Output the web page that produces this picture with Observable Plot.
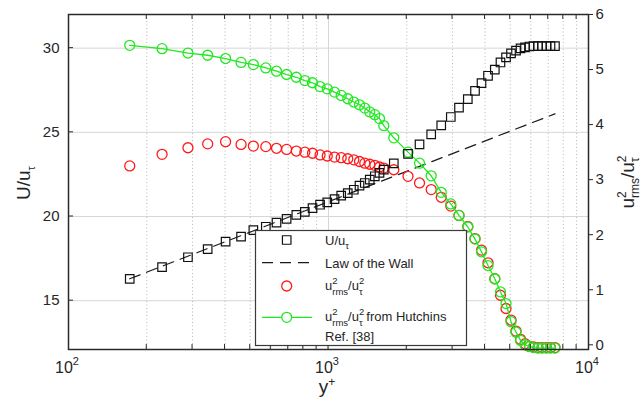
<!DOCTYPE html>
<html><head><meta charset="utf-8">
<script src="https://cdn.jsdelivr.net/npm/d3@7"></script>
<script src="https://cdn.jsdelivr.net/npm/@observablehq/plot@0.6"></script>
<style>
html,body{margin:0;padding:0;background:#fff;}
#chart{width:644px;height:405px;}
</style></head><body><div id="chart"></div>
<script>
// ---- data ----
const yPlus = [172, 229, 288, 343, 402, 461, 514, 574, 631, 690, 752, 811, 868, 928, 989, 1055, 1119, 1186, 1251, 1316, 1379, 1441, 1507, 1571, 1632,
  1783, 2022, 2239, 2483, 2714, 2954, 3176, 3434, 3660, 3877, 4107, 4362, 4586, 4817, 5035, 5263, 5477, 5700, 5931, 6144, 6394, 6624, 6895, 7143, 7431];
const uPlus = [16.30, 16.99, 17.58, 18.06, 18.51, 18.81, 19.19, 19.39, 19.64, 19.86, 20.10, 20.28, 20.50, 20.70, 20.84, 21.03, 21.24, 21.39, 21.59, 21.83, 21.99, 22.19, 22.39, 22.59, 22.79,
  23.16, 23.72, 24.28, 24.88, 25.41, 25.91, 26.47, 26.97, 27.46, 27.92, 28.36, 28.72, 29.15, 29.45, 29.69, 29.85, 29.99, 30.05, 30.10, 30.12, 30.12, 30.12, 30.12, 30.12, 30.12];
const urmsExp = [3.25, 3.46, 3.58, 3.65, 3.69, 3.64, 3.61, 3.60, 3.57, 3.55, 3.52, 3.50, 3.48, 3.45, 3.43, 3.41, 3.40, 3.38, 3.36, 3.33, 3.30, 3.28, 3.26, 3.23, 3.21,
  3.18, 3.06, 2.94, 2.82, 2.68, 2.52, 2.35, 2.15, 1.93, 1.72, 1.49, 1.20, 0.90, 0.66, 0.45, 0.25, 0.10, 0.02, -0.03, -0.04, -0.05, -0.05, -0.05, -0.05, -0.05];
const urmsHutchins = [5.44, 5.38, 5.30, 5.26, 5.20, 5.13, 5.09, 5.03, 4.97, 4.91, 4.86, 4.80, 4.76, 4.69, 4.65, 4.59, 4.53, 4.47, 4.41, 4.36, 4.30, 4.23, 4.18, 4.11, 3.98,
  3.76, 3.50, 3.30, 3.07, 2.77, 2.56, 2.35, 2.14, 1.92, 1.69, 1.44, 1.20, 0.96, 0.75, 0.42, 0.23, 0.08, 0.00, -0.03, -0.05, -0.06, -0.06, -0.06, -0.06, -0.06];
const wallYPlus = [172, 7431];
const wallU = [16.3, 26.1];
const leftTicks = [15, 20, 25, 30];
const rightTicks = [0, 1, 2, 3, 4, 5, 6];
const xMajor = [100, 1000, 10000];
const xMajorExp = ["2", "3", "4"];
const xMinor = [200, 300, 400, 500, 600, 700, 800, 900, 2000, 3000, 4000, 5000, 6000, 7000, 8000, 9000];

(function () {
const L0 = 12.1, L1 = 32, R0 = -0.085, R1 = 6;
const toLeft = v => L0 + (v - R0) * (L1 - L0) / (R1 - R0);
const fromLeft = u => R0 + (u - L0) * (R1 - R0) / (L1 - L0);

const squares = yPlus.map((x, i) => ({x, y: uPlus[i]}));
const reds = yPlus.map((x, i) => ({x, y: toLeft(urmsExp[i])}));
const greens = yPlus.map((x, i) => ({x, y: toLeft(urmsHutchins[i])}));
const wall = wallYPlus.map((x, i) => ({x, y: wallU[i]}));

const RED = "#ff1a1a", GREEN = "#22e822", INK = "#262626";
const FONT = "'Liberation Sans', Arial, Helvetica, sans-serif";

const chart = Plot.plot({
  width: 644, height: 405,
  marginLeft: 68, marginRight: 56, marginTop: 14, marginBottom: 56,
  style: {fontFamily: FONT, background: "#fff", color: INK},
  x: {type: "log", domain: [100, 10000], axis: null},
  y: {domain: [L0, L1], label: null},
  marks: [
    Plot.ruleY(leftTicks, {stroke: "#d6d6d6", strokeWidth: 1}),
    Plot.ruleX(xMinor, {stroke: "#b8b8b8", strokeWidth: 1, strokeDasharray: "1,2.5"}),
    Plot.ruleX([1000], {stroke: "#d6d6d6", strokeWidth: 1}),
    Plot.line(wall, {x: "x", y: "y", stroke: "#1a1a1a", strokeWidth: 1.2, strokeDasharray: "11,7"}),
    Plot.dot(reds, {x: "x", y: "y", r: 5, stroke: RED, strokeWidth: 1.3, fill: "none"}),
    Plot.line(greens, {x: "x", y: "y", stroke: GREEN, strokeWidth: 1.3}),
    Plot.dot(greens, {x: "x", y: "y", r: 5, stroke: GREEN, strokeWidth: 1.3, fill: "none"}),
    Plot.dot(squares, {x: "x", y: "y", symbol: "square", r: 4.8, stroke: "#111", strokeWidth: 1.2, fill: "none"}),
    Plot.frame({stroke: "#2a2a2a", strokeWidth: 1.5}),
    Plot.axisY(leftTicks, {anchor: "left", tickSize: 0, tickPadding: 9, fontSize: 15, label: null}),
    Plot.axisY(rightTicks.map(toLeft), {anchor: "right", tickSize: 4, tickPadding: 3, fontSize: 15, label: null,
      tickFormat: d => String(Math.round(fromLeft(d)))})
  ]
});
document.getElementById("chart").appendChild(chart);

const xs = chart.scale("x"), ys = chart.scale("y");
const X = v => xs.apply(v), Y = v => ys.apply(v);
const svg = d3.select(chart);
const yTop = Y(L1), yBot = Y(L0), xLft = X(100), xRgt = X(10000);
const g = svg.append("g").attr("stroke", "#2a2a2a").attr("stroke-width", 1);
xMinor.concat([1000]).forEach(v => {
  g.append("line").attr("x1", X(v)).attr("x2", X(v)).attr("y1", yTop).attr("y2", yTop + 5);
  g.append("line").attr("x1", X(v)).attr("x2", X(v)).attr("y1", yBot).attr("y2", yBot - 5);
});
leftTicks.forEach(v => g.append("line").attr("x1", xLft).attr("x2", xLft + 5).attr("y1", Y(v)).attr("y2", Y(v)));

function rich(parent, x, y, parts, opts = {}) {
  const t = parent.append("text").attr("x", x).attr("y", y)
    .attr("font-family", FONT).attr("fill", INK)
    .attr("font-size", opts.size || 13)
    .attr("text-anchor", opts.anchor || "start");
  if (opts.rotate) t.attr("transform", `rotate(${opts.rotate},${x},${y})`);
  let prev = 0;
  parts.forEach(p => {
    const s = t.append("tspan").text(p.t);
    const shift = p.shift || 0;
    if (shift !== prev) s.attr("dy", shift - prev);
    prev = shift;
    if (p.dx) s.attr("dx", p.dx);
    if (p.fs) s.attr("font-size", p.fs);
  });
  return t;
}

xMajor.forEach((v, i) => {
  rich(svg, X(v) - 1, 373, [{t: "10"}, {t: xMajorExp[i], shift: -8, fs: 11}], {size: 16, anchor: "middle"});
});
rich(svg, 327, 393, [{t: "y"}, {t: "+", shift: -7, fs: 12}], {size: 19, anchor: "middle"});
rich(svg, 30, 183, [{t: "U/u"}, {t: "τ", shift: 5, fs: 11}], {size: 19, anchor: "middle", rotate: -90});
rich(svg, 634, 182, [
  {t: "u"}, {t: "2", shift: -8, fs: 12}, {t: "rms", shift: 5, fs: 12, dx: -6.7},
  {t: "/u", shift: 0}, {t: "2", shift: -8, fs: 12}, {t: "τ", shift: 5, fs: 12, dx: -6.7}
], {size: 19, anchor: "middle", rotate: -90});

// ---- legend ----
const lg = svg.append("g");
lg.append("rect").attr("x", 255.5).attr("y", 230.5).attr("width", 211).attr("height", 115)
  .attr("fill", "#fff").attr("stroke", "#3a3a3a").attr("stroke-width", 1.2);
const mx = 286.7, tx = 325;
lg.append("path").attr("d", d3.symbol(d3.symbolSquare, 4.8 * 4.8 * Math.PI)()).attr("transform", `translate(${mx},240)`)
  .attr("fill", "none").attr("stroke", "#111").attr("stroke-width", 1.2);
rich(lg, tx, 245, [{t: "U/u"}, {t: "τ", shift: 4, fs: 9.5}]);
lg.append("line").attr("x1", 262).attr("x2", 312).attr("y1", 262.7).attr("y2", 262.7)
  .attr("stroke", "#1a1a1a").attr("stroke-width", 1.2).attr("stroke-dasharray", "11,7");
rich(lg, tx, 267.5, [{t: "Law of the Wall"}]);
lg.append("circle").attr("cx", mx).attr("cy", 286).attr("r", 5).attr("fill", "none").attr("stroke", RED).attr("stroke-width", 1.3);
rich(lg, tx, 290, [
  {t: "u"}, {t: "2", shift: -6, fs: 9.5}, {t: "rms", shift: 5, fs: 9.5, dx: -5.3},
  {t: "/u", shift: 0}, {t: "2", shift: -6, fs: 9.5}, {t: "τ", shift: 5, fs: 9.5, dx: -5.3}
]);
lg.append("line").attr("x1", 262).attr("x2", 312).attr("y1", 317.3).attr("y2", 317.3).attr("stroke", GREEN).attr("stroke-width", 1.3);
lg.append("circle").attr("cx", mx).attr("cy", 317.3).attr("r", 5).attr("fill", "#fff").attr("stroke", GREEN).attr("stroke-width", 1.3);
rich(lg, tx, 320.5, [
  {t: "u"}, {t: "2", shift: -6, fs: 9.5}, {t: "rms", shift: 5, fs: 9.5, dx: -5.3},
  {t: "/u", shift: 0}, {t: "2", shift: -6, fs: 9.5}, {t: "τ", shift: 5, fs: 9.5, dx: -5.3},
  {t: " from Hutchins", shift: 0}
]);
rich(lg, tx, 340.7, [{t: "Ref. [38]"}]);
})();
</script>
</body></html>
